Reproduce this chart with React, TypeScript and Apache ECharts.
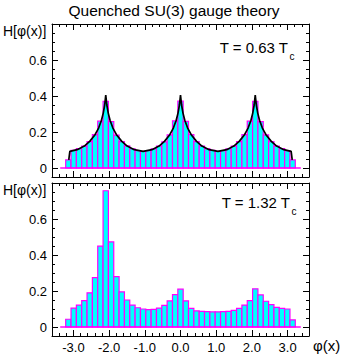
import React, { useEffect, useRef } from "react";
import * as echarts from "echarts";

// Histogram bins: centers at k * pi/21
const BIN_WIDTH = Math.PI / 21;
const binIndex = [
  -21, -20, -19, -18, -17, -16, -15, -14, -13, -12, -11, -10, -9, -8, -7, -6, -5, -4, -3, -2, -1,
  0, 1, 2, 3, 4, 5, 6, 7, 8, 9, 10, 11, 12, 13, 14, 15, 16, 17, 18, 19, 20, 21,
];

// T = 0.63 Tc histogram
const histLowT = [
  0.045, 0.098, 0.108, 0.122, 0.146, 0.185, 0.26, 0.37, 0.258, 0.183, 0.147, 0.123, 0.107, 0.097,
  0.093, 0.096, 0.106, 0.121, 0.145, 0.184, 0.262, 0.372, 0.259, 0.186, 0.147, 0.122, 0.108, 0.098,
  0.092, 0.097, 0.107, 0.122, 0.146, 0.185, 0.26, 0.37, 0.258, 0.184, 0.146, 0.121, 0.108, 0.097,
  0.045,
];

// T = 1.32 Tc histogram
const histHighT = [
  0.043, 0.105, 0.122, 0.146, 0.19, 0.274, 0.449, 0.757, 0.473, 0.28, 0.195, 0.15, 0.122, 0.107,
  0.1, 0.096, 0.098, 0.105, 0.12, 0.145, 0.18, 0.21, 0.145, 0.104, 0.09, 0.087, 0.085, 0.084,
  0.084, 0.085, 0.087, 0.092, 0.104, 0.122, 0.146, 0.212, 0.178, 0.143, 0.124, 0.109, 0.103, 0.1,
  0.04,
];

// Theory curve (T = 0.63 Tc panel)
const curveX = [
  -3.13, -3.1, -2.894, -2.694, -2.544, -2.394, -2.294, -2.214, -2.164, -2.124, -2.094,
  -2.064, -2.024, -1.974, -1.894, -1.794, -1.644, -1.494, -1.294, -1.047,
  -0.8, -0.6, -0.45, -0.3, -0.2, -0.12, -0.07, -0.03, 0,
  0.03, 0.07, 0.12, 0.2, 0.3, 0.45, 0.6, 0.8, 1.047,
  1.294, 1.494, 1.644, 1.794, 1.894, 1.974, 2.024, 2.064, 2.094,
  2.124, 2.164, 2.214, 2.294, 2.394, 2.544, 2.694, 2.894, 3.1, 3.13,
];
const curveY = [
  0.045, 0.092, 0.102, 0.122, 0.148, 0.185, 0.222, 0.265, 0.305, 0.35, 0.405,
  0.35, 0.305, 0.265, 0.222, 0.185, 0.148, 0.122, 0.102, 0.092,
  0.102, 0.122, 0.148, 0.185, 0.222, 0.265, 0.305, 0.35, 0.405,
  0.35, 0.305, 0.265, 0.222, 0.185, 0.148, 0.122, 0.102, 0.092,
  0.102, 0.122, 0.148, 0.185, 0.222, 0.265, 0.305, 0.35, 0.405,
  0.35, 0.305, 0.265, 0.222, 0.185, 0.148, 0.122, 0.102, 0.092, 0.045,
];

const baselineX = [-3.37, 3.37];

const xMajorTicks = [-3, -2, -1, 0, 1, 2, 3];
const xMinorTicks = [
  -3.4, -3.2, -2.8, -2.6, -2.4, -2.2, -1.8, -1.6, -1.4, -1.2, -0.8, -0.6, -0.4, -0.2,
  0.2, 0.4, 0.6, 0.8, 1.2, 1.4, 1.6, 1.8, 2.2, 2.4, 2.6, 2.8, 3.2, 3.4,
];
const yMajorTicks = [0, 0.2, 0.4, 0.6];
const yMinorTicks = [0.05, 0.1, 0.15, 0.25, 0.3, 0.35, 0.45, 0.5, 0.55, 0.65, 0.7, 0.75];

const X_MIN = -3.6;
const X_MAX = 3.6;
const Y_MIN = -0.05;
const Y_MAX = 0.8;

const FONT = "'Liberation Sans', Arial, Helvetica, sans-serif";

function buildAxes(g: number, showXLabels: boolean) {
  const common = { splitLine: { show: false }, gridIndex: g };
  const lineOn = { show: true, onZero: false, lineStyle: { color: "#000", width: 1 } };
  const lineOff = { show: false, onZero: false };
  const xAxes = [
    {
      ...common, type: "value", min: X_MIN, max: X_MAX, position: "bottom",
      axisLine: lineOn,
      axisTick: { show: true, inside: true, length: 6, customValues: xMajorTicks, lineStyle: { color: "#000", width: 1 } },
      axisLabel: {
        show: showXLabels, customValues: xMajorTicks, margin: 5,
        formatter: (v: number) => v.toFixed(1), color: "#000", fontSize: 13, fontFamily: FONT,
      },
    },
    {
      ...common, type: "value", min: X_MIN, max: X_MAX, position: "bottom",
      axisLine: lineOff,
      axisTick: { show: true, inside: true, length: 3, customValues: xMinorTicks, lineStyle: { color: "#000", width: 1 } },
      axisLabel: { show: false },
    },
    {
      ...common, type: "value", min: X_MIN, max: X_MAX, position: "top",
      axisLine: lineOn,
      axisTick: { show: true, inside: true, length: 6, customValues: xMajorTicks, lineStyle: { color: "#000", width: 1 } },
      axisLabel: { show: false },
    },
    {
      ...common, type: "value", min: X_MIN, max: X_MAX, position: "top",
      axisLine: lineOff,
      axisTick: { show: true, inside: true, length: 3, customValues: xMinorTicks, lineStyle: { color: "#000", width: 1 } },
      axisLabel: { show: false },
    },
  ];
  const yAxes = [
    {
      ...common, type: "value", min: Y_MIN, max: Y_MAX, position: "left",
      axisLine: lineOn,
      axisTick: { show: true, inside: true, length: 6, customValues: yMajorTicks, lineStyle: { color: "#000", width: 1 } },
      axisLabel: {
        show: true, customValues: yMajorTicks, margin: 5,
        formatter: (v: number) => (v === 0 ? "0" : v.toFixed(1)), color: "#000", fontSize: 13, fontFamily: FONT,
      },
    },
    {
      ...common, type: "value", min: Y_MIN, max: Y_MAX, position: "left",
      axisLine: lineOff,
      axisTick: { show: true, inside: true, length: 3, customValues: yMinorTicks, lineStyle: { color: "#000", width: 1 } },
      axisLabel: { show: false },
    },
    {
      ...common, type: "value", min: Y_MIN, max: Y_MAX, position: "right",
      axisLine: lineOn,
      axisTick: { show: true, inside: true, length: 6, customValues: yMajorTicks, lineStyle: { color: "#000", width: 1 } },
      axisLabel: { show: false },
    },
    {
      ...common, type: "value", min: Y_MIN, max: Y_MAX, position: "right",
      axisLine: lineOff,
      axisTick: { show: true, inside: true, length: 3, customValues: yMinorTicks, lineStyle: { color: "#000", width: 1 } },
      axisLabel: { show: false },
    },
  ];
  return { xAxes, yAxes };
}

function histSeries(g: number, values: number[]) {
  return {
    type: "custom",
    xAxisIndex: 4 * g,
    yAxisIndex: 4 * g,
    encode: { x: 0, y: 1 },
    data: binIndex.map((k, i) => [k * BIN_WIDTH, values[i]]),
    renderItem: (_params: any, api: any) => {
      const c = api.value(0);
      const v = api.value(1);
      const p0 = api.coord([c - BIN_WIDTH / 2, 0]);
      const p1 = api.coord([c + BIN_WIDTH / 2, v]);
      return {
        type: "rect",
        shape: { x: p0[0], y: p1[1], width: p1[0] - p0[0], height: p0[1] - p1[1] },
        style: { fill: "#00ffff", stroke: "#ff00ff", lineWidth: 1.2 },
      };
    },
    z: 2,
  };
}

function baselineSeries(g: number) {
  return {
    type: "line",
    xAxisIndex: 4 * g,
    yAxisIndex: 4 * g,
    data: baselineX.map((x) => [x, 0]),
    symbol: "none",
    lineStyle: { color: "#ff00ff", width: 1.5 },
    z: 3,
  };
}

export default function App() {
  const ref = useRef<HTMLDivElement>(null);
  useEffect(() => {
    if (!ref.current) return;
    const chart = echarts.init(ref.current, undefined, { renderer: "svg" });
    const a0 = buildAxes(0, false);
    const a1 = buildAxes(1, true);
    const option: any = {
      animation: false,
      backgroundColor: "#fff",
      grid: [
        { left: 52, top: 24, width: 257, height: 153 },
        { left: 52, top: 183, width: 257, height: 153 },
      ],
      xAxis: [...a0.xAxes, ...a1.xAxes],
      yAxis: [...a0.yAxes, ...a1.yAxes],
      series: [
        histSeries(0, histLowT),
        baselineSeries(0),
        {
          type: "line",
          xAxisIndex: 0,
          yAxisIndex: 0,
          data: curveX.map((x, i) => [x, curveY[i]]),
          symbol: "none",
          lineStyle: { color: "#000", width: 1.7 },
          z: 4,
        },
        histSeries(1, histHighT),
        baselineSeries(1),
      ],
      graphic: [
        {
          type: "text", x: 174, y: 10,
          style: { text: "Quenched SU(3) gauge theory", font: `15.5px ${FONT}`, fill: "#000", align: "center", verticalAlign: "middle" },
        },
        {
          type: "text", x: 3, y: 31,
          style: { text: "H[φ(x)]", font: `14px ${FONT}`, fill: "#000", align: "left", verticalAlign: "middle" },
        },
        {
          type: "text", x: 3, y: 190,
          style: { text: "H[φ(x)]", font: `14px ${FONT}`, fill: "#000", align: "left", verticalAlign: "middle" },
        },
        {
          type: "text", x: 288, y: 47.5,
          style: { text: "T = 0.63 T", font: `15px ${FONT}`, fill: "#000", align: "right", verticalAlign: "middle" },
        },
        {
          type: "text", x: 289.5, y: 56,
          style: { text: "c", font: `10px ${FONT}`, fill: "#000", align: "left", verticalAlign: "middle" },
        },
        {
          type: "text", x: 290, y: 202.5,
          style: { text: "T = 1.32 T", font: `15px ${FONT}`, fill: "#000", align: "right", verticalAlign: "middle" },
        },
        {
          type: "text", x: 291.5, y: 211,
          style: { text: "c", font: `10px ${FONT}`, fill: "#000", align: "left", verticalAlign: "middle" },
        },
        {
          type: "text", x: 313, y: 345,
          style: { text: "φ(x)", font: `15px ${FONT}`, fill: "#000", align: "left", verticalAlign: "middle" },
        },
      ],
    };
    chart.setOption(option);
    return () => chart.dispose();
  }, []);
  return (
    <div
      ref={ref}
      style={{ position: "absolute", left: 0, top: 0, width: 343, height: 354 }}
    />
  );
}
